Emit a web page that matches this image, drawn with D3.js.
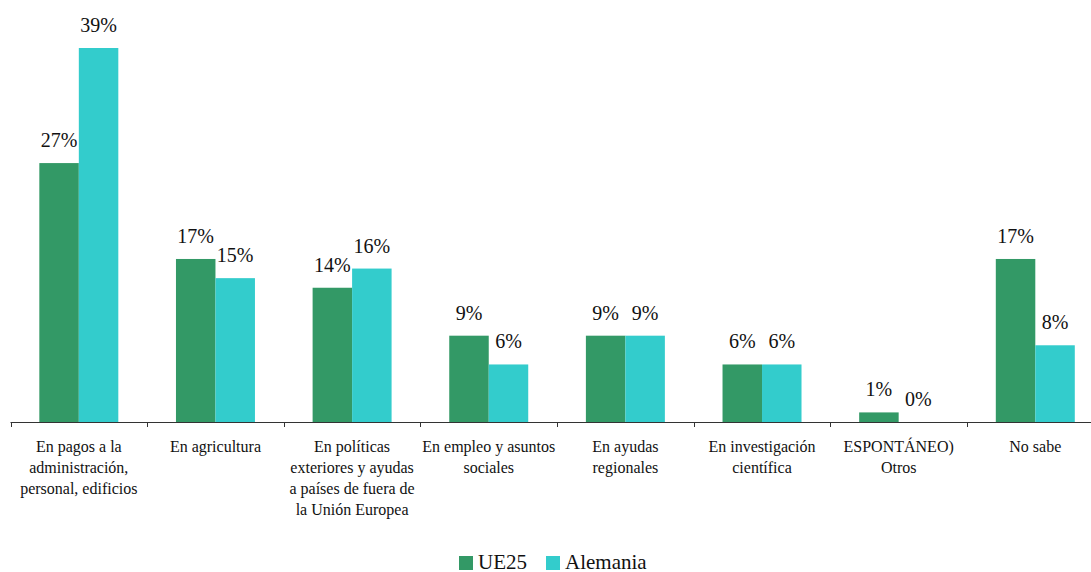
<!DOCTYPE html>
<html>
<head>
<meta charset="utf-8">
<script src="https://cdn.jsdelivr.net/npm/d3@7"></script>
<style>
  body { margin: 0; background: #fff; }
</style>
</head>
<body>
<div id="viz"></div>
<script>
// categories (line breaks as in the original labels)
const categories = [
    "En pagos a la\nadministración,\npersonal, edificios",
    "En agricultura",
    "En políticas\nexteriores y ayudas\na países de fuera de\nla Unión Europea",
    "En empleo y asuntos\nsociales",
    "En ayudas\nregionales",
    "En investigación\ncientífica",
    "ESPONTÁNEO)\nOtros",
    "No sabe"
];
const seriesNames = ["UE25", "Alemania"];
const ue25 = [27, 17, 14, 9, 9, 6, 1, 17];
const alemania = [39, 15, 16, 6, 9, 6, 0, 8];
const colors = ["#339966", "#33cccc"];

const width = 1091, height = 572;
const baseY = 422;
const serif = '"Liberation Serif", "Times New Roman", serif';

const svg = d3.select("#viz")
              .append("svg")
              .attr("width", width)
              .attr("height", height);

const x = d3.scaleBand()
            .domain(categories)
            .range([10.5, 10.5 + 8 * 136.64])
            .paddingInner(0)
            .paddingOuter(0);

const xs = d3.scaleBand()
             .domain(seriesNames)
             .range([0, x.bandwidth()])
             .paddingInner(0)
             .paddingOuter(0.73);

const y = d3.scaleLinear()
            .domain([0, 39])
            .range([baseY, 48]);

const rows = categories.map((c, i) => ({cat: c, vals: [ue25[i], alemania[i]]}));

const groups = svg.append("g")
                  .selectAll("g")
                  .data(rows)
                  .join("g")
                  .attr("transform", d => `translate(${x(d.cat)},0)`);

groups.selectAll("rect")
      .data(d => d.vals.map((v, j) => ({name: seriesNames[j], v: v, j: j})))
      .join("rect")
      .attr("x", d => xs(d.name))
      .attr("width", xs.bandwidth())
      .attr("y", d => y(d.v))
      .attr("height", d => baseY - y(d.v))
      .attr("fill", d => colors[d.j]);

groups.selectAll("text.val")
      .data(d => d.vals.map((v, j) => ({name: seriesNames[j], v: v})))
      .join("text")
      .attr("class", "val")
      .attr("x", d => xs(d.name) + xs.bandwidth() / 2)
      .attr("y", d => y(d.v) - 16)
      .attr("text-anchor", "middle")
      .attr("fill", "#111")
      .style("font-family", serif)
      .style("font-size", "20px")
      .text(d => d.v + "%");

// x axis: line plus ticks on category boundaries
const axis = svg.append("g");
axis.append("line")
    .attr("x1", 10.5).attr("x2", width)
    .attr("y1", baseY + 0.5).attr("y2", baseY + 0.5)
    .attr("stroke", "#333");
categories.forEach(c => {
    axis.append("line")
        .attr("x1", Math.round(x(c)) + 0.5).attr("x2", Math.round(x(c)) + 0.5)
        .attr("y1", baseY).attr("y2", baseY + 5)
        .attr("stroke", "#333");
});

// category labels
categories.forEach(c => {
    const t = svg.append("text")
                 .attr("text-anchor", "middle")
                 .attr("fill", "#111")
                 .style("font-family", serif)
                 .style("font-size", "16px");
    c.split("\n").forEach((line, k) => {
        t.append("tspan")
         .attr("x", x(c) + x.bandwidth() / 2)
         .attr("y", 452 + k * 21)
         .text(line);
    });
});

// legend
const legend = svg.append("g");
const legendX = [459, 546];
seriesNames.forEach((s, i) => {
    legend.append("rect")
          .attr("x", legendX[i]).attr("y", 556)
          .attr("width", 14).attr("height", 14)
          .attr("fill", colors[i]);
    legend.append("text")
          .attr("x", legendX[i] + 19).attr("y", 569)
          .attr("fill", "#111")
          .style("font-family", serif)
          .style("font-size", "21px")
          .text(s);
});
</script>
</body>
</html>
